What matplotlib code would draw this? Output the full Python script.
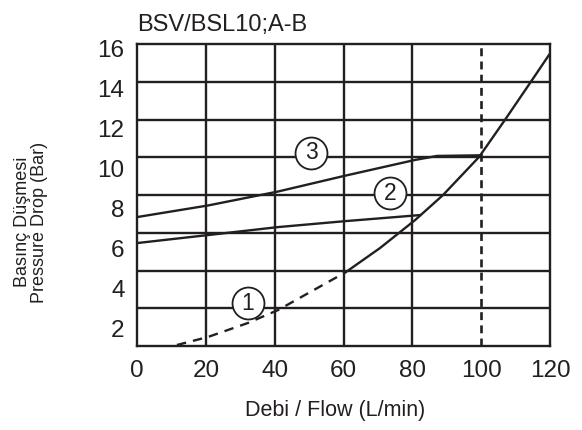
import numpy as np
import matplotlib
matplotlib.use("Agg")
import matplotlib.pyplot as plt

# Curve 1 (dashed below 60 L/min, solid above)
flow1_low = [11.6, 20.6, 32.2, 41.0, 60.7]
drop1_low = [1.17, 1.57, 2.27, 2.92, 4.82]
flow1_high = [60.7, 70.6, 80.8, 88.9, 99.4, 106.9, 114.8, 119.7]
drop1_high = [4.82, 6.02, 7.42, 8.67, 10.58, 12.43, 14.43, 15.68]

# Curve 2
flow2 = [0, 20.6, 41.0, 60.7, 82.2]
drop2 = [6.27, 6.67, 7.07, 7.37, 7.67]

# Curve 3
flow3 = [0, 20.6, 41.0, 60.7, 80.8, 87.2, 99.4]
drop3 = [7.57, 8.15, 8.85, 9.65, 10.43, 10.63, 10.66]

# circled curve numbers
tag_names = ["1", "2", "3"]
tag_flow = [32.2, 73.5, 50.6]
tag_drop = [3.27, 8.77, 10.78]

x_ticks = [0, 20, 40, 60, 80, 100, 120]
y_ticks = [2, 4, 6, 8, 10, 12, 14, 16]
x_grid = [20, 40, 60, 80]
rated_flow = 100

ink = "#231f20"
font = ["Liberation Sans", "DejaVu Sans"]

fig = plt.figure(figsize=(5.82, 4.30), dpi=100)
ax = fig.add_axes([137 / 582, 1 - 346 / 430, 413 / 582, 302 / 430])

ax.set_xlim(0, 120)
ax.set_ylim(1.12, 16.23)

# grid: vertical lines at the flow ticks, horizontal lines evenly spaced
for gx in x_grid:
    ax.axvline(gx, color=ink, lw=1.7, zorder=1)
y0, y1 = ax.get_ylim()
for gy in np.linspace(y0, y1, 9)[1:-1]:
    ax.axhline(gy, color=ink, lw=1.7, zorder=1)
ax.axvline(rated_flow, color=ink, lw=1.9, linestyle=(0, (3, 2)), zorder=1)

ax.plot(flow1_low, drop1_low, color=ink, lw=1.7, linestyle=(0, (4, 3)), zorder=2)
ax.plot(flow1_high, drop1_high, color=ink, lw=1.7, zorder=2)
ax.plot(flow2, drop2, color=ink, lw=1.7, zorder=2)
ax.plot(flow3, drop3, color=ink, lw=1.7, zorder=2)

for name, fx, dy in zip(tag_names, tag_flow, tag_drop):
    ax.plot(fx, dy, marker="o", markersize=23, markerfacecolor="white",
            markeredgecolor=ink, markeredgewidth=1.3, zorder=3)
    ax.text(fx, dy, name, ha="center", va="center", fontsize=16.5,
            family=font, color=ink, zorder=4)

for sp in ax.spines.values():
    sp.set_color(ink)
    sp.set_linewidth(1.7)

ax.set_xticks(x_ticks)
ax.set_yticks(y_ticks)
ax.set_xticklabels([str(v) for v in x_ticks], family=font, fontsize=17.5, color=ink)
ax.set_yticklabels([str(v) for v in y_ticks], family=font, fontsize=17.5, color=ink)
ax.tick_params(axis="both", length=0)
ax.tick_params(axis="x", pad=10)
ax.tick_params(axis="y", pad=9)

ax.set_title("BSV/BSL10;A-B", loc="left", pad=9, fontsize=17, family=font, color=ink)

ax.set_xlabel("Debi / Flow (L/min)", family=font, fontsize=15.5, color=ink)
ax.xaxis.label.set_va("center")
ax.xaxis.set_label_coords(0.479, -0.212)

ax.set_ylabel("Basınç Düşmesi\nPressure Drop (Bar)", family=font, fontsize=13,
              color=ink, linespacing=1.05, multialignment="center")
ax.yaxis.label.set_va("center")
ax.yaxis.set_label_coords(-0.257, 0.41)

fig.savefig("out.png", dpi=100, facecolor="white")
